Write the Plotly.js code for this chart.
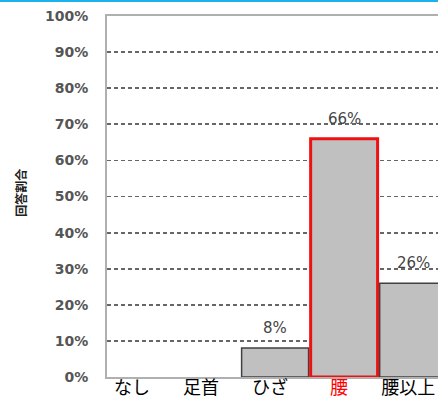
<!DOCTYPE html>
<html><head><meta charset="utf-8">
<script src="https://cdn.plot.ly/plotly-3.0.1.min.js"></script>
<style>html,body{margin:0;padding:0;overflow:hidden;background:#fff}</style>
</head><body>
<div id="chart" style="width:438px;height:399px"></div>
<script>
const categories = ["なし", "足首", "ひざ", "腰", "腰以上"];
const values = [0, 0, 8, 66, 26];
const valueLabels = ["", "", "8%", "66%", "26%"];
const highlight = "腰";
const yTickVals = [0, 10, 20, 30, 40, 50, 60, 70, 80, 90, 100];
const yTickText = ["0%", "10%", "20%", "30%", "40%", "50%", "60%", "70%", "80%", "90%", "100%"];
const yTitle = "回答割合";

const lineColors = categories.map(c => c === highlight ? "#ee1111" : "#404040");
const lineWidths = categories.map((c, i) => values[i] === 0 ? 0 : (c === highlight ? 3 : 1.5));
const tickText = categories.map(c => c === highlight ? "<span style='color:#ff0000'>" + c + "</span>" : c);

const trace = {
  type: "bar",
  x: categories,
  y: values,
  width: 0.97,
  marker: { color: "#c0c0c0", line: { color: lineColors, width: lineWidths } },
  hoverinfo: "none"
};

const annotations = categories.map((c, i) => valueLabels[i] ? {
  x: c, y: values[i], xref: "x", yref: "y", text: valueLabels[i], showarrow: false,
  yshift: 20, font: { family: "DejaVu Sans", size: 15, color: "#444" }
} : null).filter(a => a);

annotations.push({
  xref: "paper", yref: "paper", x: -0.26, y: 0.51, xanchor: "center", yanchor: "middle",
  text: yTitle, textangle: -90,
  showarrow: false, font: { family: "Noto Sans CJK JP", size: 12, color: "#222", weight: "bold" }
});

const layout = {
  width: 438, height: 399,
  margin: { l: 107, r: 0, t: 16, b: 22, pad: 0 },
  paper_bgcolor: "#fff", plot_bgcolor: "#fff",
  showlegend: false,
  bargap: 0,
  xaxis: {
    type: "category",
    range: [-0.435, 4.36],
    tickvals: categories, ticktext: tickText,
    showline: true, mirror: true, linecolor: "#b0b0b0", linewidth: 2,
    showgrid: false, ticks: "", ticklabelshift: -5, ticklabelstandoff: -7,
    tickfont: { family: "Noto Sans CJK JP", size: 18, color: "#000" }
  },
  yaxis: {
    range: [0, 100],
    tickvals: yTickVals, ticktext: yTickText,
    showline: true, linecolor: "#b0b0b0", linewidth: 2,
    showgrid: true, gridcolor: "#666", gridwidth: 1.8, griddash: "4px,3px",
    zeroline: false, ticks: "", ticklabelstandoff: 14,
    tickfont: { family: "DejaVu Sans", size: 14, color: "#555", weight: "bold" }
  },
  annotations: annotations,
  shapes: [{
    type: "line", xref: "paper", yref: "paper", x0: -0.4, x1: 1.1, y0: 1.0416, y1: 1.0416,
    line: { color: "#1ab2ec", width: 2 }
  }]
};

Plotly.newPlot("chart", [trace], layout, { displayModeBar: false, staticPlot: true });
</script>
</body></html>
